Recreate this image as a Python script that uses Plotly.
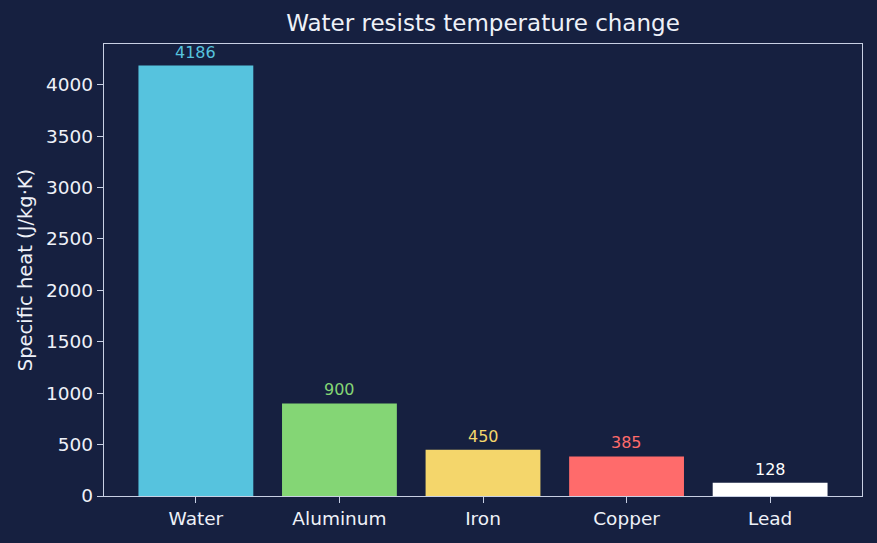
import plotly.graph_objects as go

materials = ["Water", "Aluminum", "Iron", "Copper", "Lead"]
specific_heat = [4186, 900, 450, 385, 128]
bar_colors = ["#56C3DE", "#84D675", "#F4D66B", "#FF6B6B", "#FFFFFF"]
label_colors = ["#56C3DE", "#84D675", "#F4D66B", "#FF6B6B", "#FFFFFF"]
y_ticks = [0, 500, 1000, 1500, 2000, 2500, 3000, 3500, 4000]

BG = "#162040"
FG = "#EEF1F8"
FRAME = "#C8D0E4"
FONT = "DejaVu Sans"

fig = go.Figure()
fig.add_trace(go.Bar(
    x=list(range(len(materials))), y=specific_heat,
    marker=dict(color=bar_colors, line=dict(width=0)),
    width=0.8, hoverinfo="skip",
))

for i, (v, c) in enumerate(zip(specific_heat, label_colors)):
    fig.add_annotation(x=i, y=v, text=str(v), showarrow=False,
                       yanchor="bottom", yshift=2,
                       font=dict(family=FONT, size=16, color=c))

ymax = max(specific_heat) * 1.05
fig.update_layout(
    width=877, height=543,
    paper_bgcolor=BG, plot_bgcolor=BG,
    margin=dict(l=104, r=15, t=44, b=47),
    showlegend=False,
    title=dict(text="Water resists temperature change", x=(104 + 862) / 2 / 877,
               xanchor="center", y=1 - 23 / 543, yanchor="middle",
               font=dict(family=FONT, size=23, color=FG)),
    font=dict(family=FONT, color=FG),
    xaxis=dict(range=[-0.64, len(materials) - 1 + 0.64],
               tickmode="array", tickvals=list(range(len(materials))), ticktext=materials,
               ticks="outside", ticklen=6, tickwidth=1.3, tickcolor=FRAME,
               showgrid=False, zeroline=False,
               showline=True, linecolor=FRAME, linewidth=1.3, mirror=True,
               tickfont=dict(family=FONT, size=18.5, color=FG)),
    yaxis=dict(range=[0, ymax], tickmode="array", tickvals=y_ticks,
               ticks="outside", ticklen=6, tickwidth=1.3, tickcolor=FRAME,
               showgrid=False, zeroline=False,
               showline=True, linecolor=FRAME, linewidth=1.3, mirror=True,
               tickfont=dict(family=FONT, size=18.5, color=FG),
               title=dict(text="Specific heat (J/kg·K)", standoff=8,
                          font=dict(family=FONT, size=19.5, color=FG))),
)

fig.write_html("out.html")
